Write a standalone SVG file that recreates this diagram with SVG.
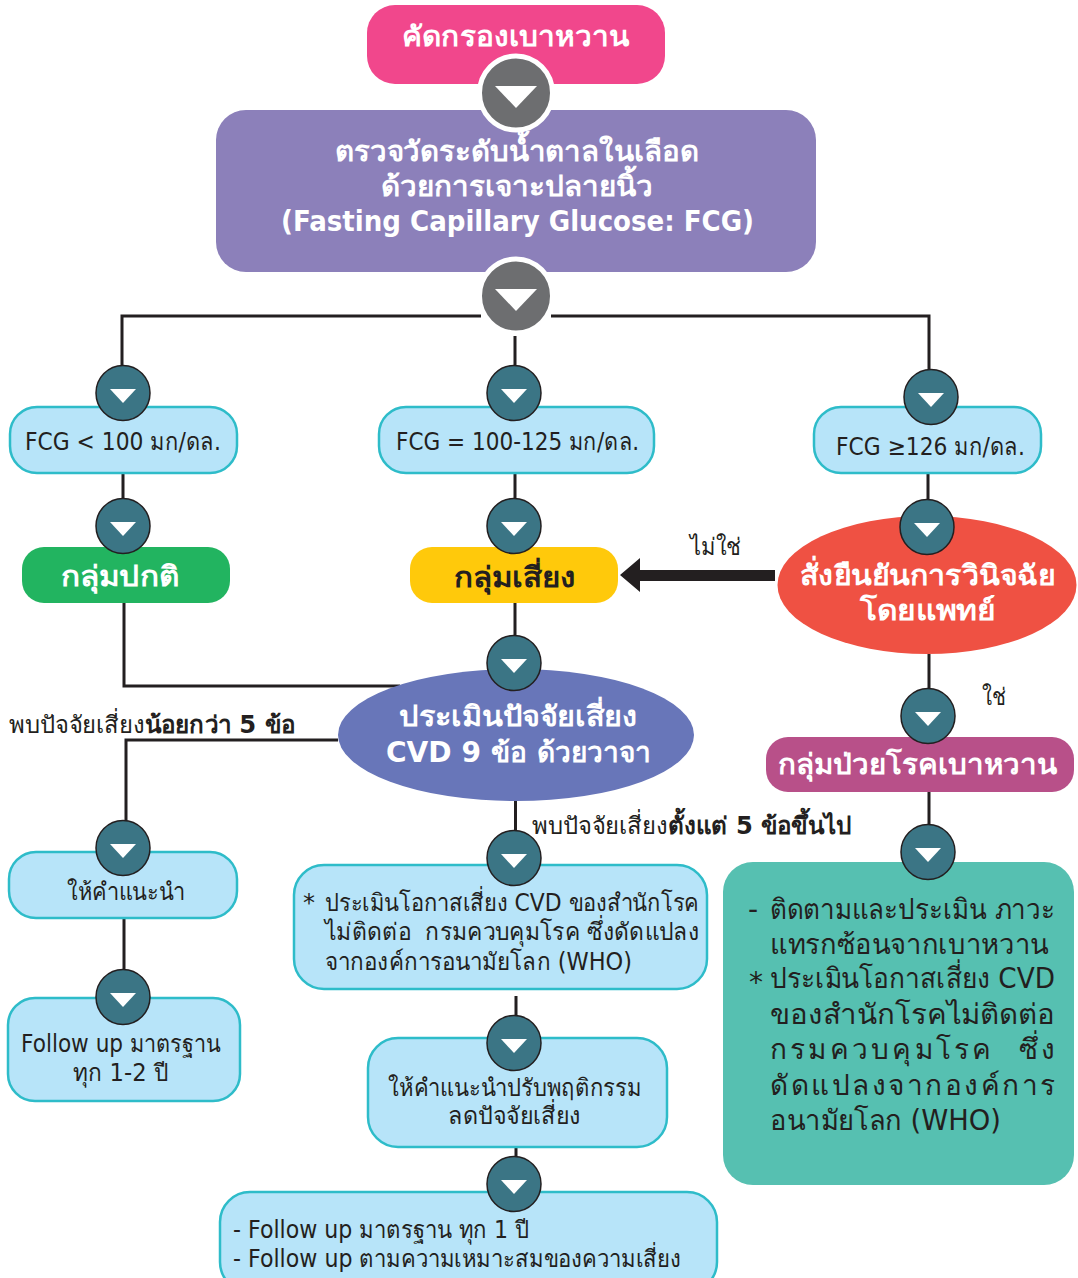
<svg xmlns="http://www.w3.org/2000/svg" xmlns:xlink="http://www.w3.org/1999/xlink" width="1078" height="1278" viewBox="0 0 1078 1278">
<style>
text{font-family:"DejaVu Sans","Noto Sans",sans-serif;fill:#231f20;font-size:24px}
.w{fill:#fff;font-weight:700;font-size:28px;text-anchor:middle}
.c{text-anchor:middle}
.b{font-weight:700}
.lg{font-size:28px}
.l{fill:none;stroke:#231f20;stroke-width:3}
.box{fill:#b7e4f9;stroke:#2ebcc9;stroke-width:2.5}
.t{fill:#3b7585;stroke:#231f20;stroke-width:1.5}
.a{fill:#fff}
.g{fill:#6d6e70;stroke:#fff;stroke-width:5}
</style>
<defs>
<g id="tb"><ellipse class="t" rx="27" ry="27.5"/><polygon class="a" points="-13,-4 13,-4 0,10"/></g>
<g id="gb"><ellipse class="g" rx="36.500" ry="37"/><polygon class="a" points="-21,-7 21,-7 0,15"/></g>
</defs>
<g id="connectors">
<path class="l" d="M122 366V316H929V372M515 336V366M123 473V500M515 473V500M928 473V500M124 603V686H400M515 603V636M338 740H126V825M124 918V970M515.500 800V832M516 996V1018M516 1147V1158M929 654V690M929 792V825"/>
<polygon fill="#231f20" points="775,570 640,570 640,558 620,575 640,592 640,581 775,581"/>
</g>
<g id="n-screen"><rect x="367" y="5" width="298" height="79" rx="28" fill="#f1478c"/><text class="w" x="515.500" y="46" textLength="227" lengthAdjust="spacingAndGlyphs">คัดกรองเบาหวาน</text></g>
<g id="n-fcg"><rect x="216" y="110" width="600" height="162" rx="30" fill="#8c80ba"/>
<text class="w" x="517" y="161" textLength="364" lengthAdjust="spacingAndGlyphs">ตรวจวัดระดับน้ำตาลในเลือด</text>
<text class="w" x="517" y="196" textLength="272" lengthAdjust="spacingAndGlyphs">ด้วยการเจาะปลายนิ้ว</text>
<text class="w" x="517.500" y="231" textLength="473" lengthAdjust="spacingAndGlyphs">(Fasting Capillary Glucose: FCG)</text></g>
<g id="b1"><use xlink:href="#gb" href="#gb" x="516" y="93"/></g>
<g id="b2"><rect x="481" y="312" width="70" height="8" fill="#fff"/><use xlink:href="#gb" href="#gb" x="516" y="296"/></g>
<g id="n-low"><rect class="box" x="10" y="407" width="227" height="66" rx="27"/><text x="25" y="450" textLength="196" lengthAdjust="spacingAndGlyphs">FCG &lt; 100 มก/ดล.</text></g>
<g id="n-mid"><rect class="box" x="379" y="407" width="275" height="66" rx="27"/><text x="396" y="450" textLength="243" lengthAdjust="spacingAndGlyphs">FCG = 100-125 มก/ดล.</text></g>
<g id="n-high"><rect class="box" x="814" y="407" width="227" height="66" rx="27"/><text x="836" y="455" textLength="189" lengthAdjust="spacingAndGlyphs">FCG ≥126 มก/ดล.</text></g>
<g id="n-normal"><rect x="22" y="547" width="208" height="56" rx="22" fill="#22b460"/><text class="w" x="120" y="586" textLength="118" lengthAdjust="spacingAndGlyphs">กลุ่มปกติ</text></g>
<g id="n-risk"><rect x="410" y="547" width="208" height="56" rx="22" fill="#ffc90b"/><text class="c b lg" x="515" y="587" textLength="122" lengthAdjust="spacingAndGlyphs">กลุ่มเสี่ยง</text></g>
<g id="n-confirm"><ellipse cx="927" cy="585" rx="149.500" ry="69" fill="#ef5143"/><text class="w" x="927.500" y="585" textLength="255" lengthAdjust="spacingAndGlyphs">สั่งยืนยันการวินิจฉัย</text><text class="w" x="927.500" y="620" textLength="135" lengthAdjust="spacingAndGlyphs">โดยแพทย์</text></g>
<g id="n-assess"><ellipse cx="516" cy="735" rx="178" ry="66" fill="#6876b9"/><text class="w" x="518" y="726" textLength="238" lengthAdjust="spacingAndGlyphs">ประเมินปัจจัยเสี่ยง</text><text class="w" x="518.500" y="762" textLength="265" lengthAdjust="spacingAndGlyphs">CVD 9 ข้อ ด้วยวาจา</text></g>
<g id="n-patient"><rect x="766" y="737" width="308" height="55" rx="22" fill="#b85089"/><text class="w" x="917.500" y="774" textLength="279" lengthAdjust="spacingAndGlyphs">กลุ่มป่วยโรคเบาหวาน</text></g>
<g id="n-advise"><rect class="box" x="9" y="852" width="228" height="66" rx="27"/><text class="c" x="126" y="900" textLength="118" lengthAdjust="spacingAndGlyphs">ให้คำแนะนำ</text></g>
<g id="n-follow1"><rect class="box" x="8" y="998" width="232" height="103" rx="27"/><text class="c" x="120.500" y="1052" textLength="199" lengthAdjust="spacingAndGlyphs">Follow up มาตรฐาน</text><text class="c" x="120.500" y="1081" textLength="95" lengthAdjust="spacingAndGlyphs">ทุก 1-2 ปี</text></g>
<g id="n-cvd"><rect class="box" x="294" y="865" width="413" height="124" rx="30"/>
<text x="303" y="911">*</text>
<text x="325" y="911" textLength="374" lengthAdjust="spacingAndGlyphs">ประเมินโอกาสเสี่ยง CVD ของสำนักโรค</text>
<text x="325" y="940" textLength="374" lengthAdjust="spacingAndGlyphs">ไม่ติดต่อ&#160; กรมควบคุมโรค ซึ่งดัดแปลง</text>
<text x="325" y="970" textLength="307" lengthAdjust="spacingAndGlyphs">จากองค์การอนามัยโลก (WHO)</text></g>
<g id="n-behav"><rect class="box" x="368" y="1038" width="299" height="109" rx="30"/>
<text class="c" x="515" y="1096" textLength="254" lengthAdjust="spacingAndGlyphs">ให้คำแนะนำปรับพฤติกรรม</text>
<text class="c" x="514.500" y="1124" textLength="133" lengthAdjust="spacingAndGlyphs">ลดปัจจัยเสี่ยง</text></g>
<g id="n-follow2"><rect class="box" x="220" y="1192" width="497" height="100" rx="30"/>
<text x="233" y="1238" textLength="296" lengthAdjust="spacingAndGlyphs">- Follow up มาตรฐาน ทุก 1 ปี</text>
<text x="233" y="1267" textLength="448" lengthAdjust="spacingAndGlyphs">- Follow up ตามความเหมาะสมของความเสี่ยง</text></g>
<g id="n-dm"><rect x="723" y="862" width="351" height="323" rx="30" fill="#56c0b1"/>
<text class="lg" x="748" y="919">-</text><text class="lg" x="770" y="919" textLength="285" lengthAdjust="spacingAndGlyphs">ติดตามและประเมิน ภาวะ</text>
<text class="lg" x="770" y="954" textLength="279" lengthAdjust="spacingAndGlyphs">แทรกซ้อนจากเบาหวาน</text>
<text class="lg" x="749" y="992">*</text><text class="lg" x="770" y="988" textLength="285" lengthAdjust="spacingAndGlyphs">ประเมินโอกาสเสี่ยง CVD</text>
<text class="lg" x="770" y="1024" textLength="285" lengthAdjust="spacingAndGlyphs">ของสำนักโรคไม่ติดต่อ</text>
<text class="lg" x="770" y="1059" textLength="285">กรมควบคุมโรค&#160;&#160;ซึ่ง</text>
<text class="lg" x="770" y="1095" textLength="285">ดัดแปลงจากองค์การ</text>
<text class="lg" x="770" y="1130" textLength="231" lengthAdjust="spacingAndGlyphs">อนามัยโลก (WHO)</text>
</g>
<g id="labels">
<text x="690" y="555" textLength="51" lengthAdjust="spacingAndGlyphs">ไม่ใช่</text>
<text x="982" y="705" textLength="24" lengthAdjust="spacingAndGlyphs">ใช่</text>
<text x="9" y="733" textLength="136" lengthAdjust="spacingAndGlyphs">พบปัจจัยเสี่ยง</text><text class="b" x="145" y="733" textLength="150" lengthAdjust="spacingAndGlyphs">น้อยกว่า 5 ข้อ</text>
<text x="532" y="834" textLength="136" lengthAdjust="spacingAndGlyphs">พบปัจจัยเสี่ยง</text><text class="b" x="668" y="834" textLength="183" lengthAdjust="spacingAndGlyphs">ตั้งแต่ 5 ข้อขึ้นไป</text>
</g>
<g id="buttons">
<use xlink:href="#tb" href="#tb" x="123" y="393"/><use xlink:href="#tb" href="#tb" x="514" y="393"/><use xlink:href="#tb" href="#tb" x="931" y="397"/>
<use xlink:href="#tb" href="#tb" x="123" y="526"/><use xlink:href="#tb" href="#tb" x="514" y="526"/><use xlink:href="#tb" href="#tb" x="927" y="527"/>
<use xlink:href="#tb" href="#tb" x="514" y="663"/><use xlink:href="#tb" href="#tb" x="928" y="716"/><use xlink:href="#tb" href="#tb" x="928" y="852"/>
<use xlink:href="#tb" href="#tb" x="123" y="848"/><use xlink:href="#tb" href="#tb" x="514" y="858"/><use xlink:href="#tb" href="#tb" x="123" y="997"/>
<use xlink:href="#tb" href="#tb" x="514" y="1043"/><use xlink:href="#tb" href="#tb" x="514" y="1184"/>
</g>
</svg>
